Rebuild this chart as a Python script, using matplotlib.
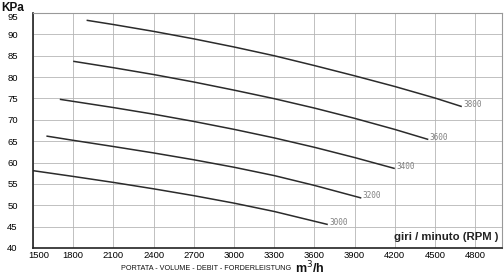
import matplotlib
matplotlib.use("Agg")
import matplotlib.pyplot as plt
import matplotlib.transforms as mtransforms

# airflow (m3/h) and pressure (KPa), one curve per speed
x_3000 = [1500, 1800, 2100, 2400, 2700, 3000, 3300, 3700]
y_3000 = [58.1, 56.75, 55.35, 53.85, 52.25, 50.5, 48.55, 45.5]

x_3200 = [1600, 1800, 2100, 2400, 2700, 3000, 3300, 3600, 3950]
y_3200 = [66.2, 65.2, 63.75, 62.25, 60.65, 58.9, 56.95, 54.65, 51.7]

x_3400 = [1700, 2100, 2400, 2700, 3000, 3300, 3600, 3900, 4200]
y_3400 = [74.8, 72.87, 71.32, 69.62, 67.77, 65.77, 63.57, 61.17, 58.6]

x_3600 = [1800, 2100, 2400, 2700, 3000, 3300, 3600, 3900, 4200, 4450]
y_3600 = [83.7, 82.2, 80.6, 78.85, 76.95, 74.95, 72.75, 70.35, 67.75, 65.4]

x_3800 = [1900, 2100, 2400, 2700, 3000, 3300, 3600, 3900, 4200, 4500, 4700]
y_3800 = [93.3, 92.3, 90.7, 88.95, 87.05, 85.0, 82.7, 80.3, 77.8, 75.1, 73.1]

speeds = ["3000", "3200", "3400", "3600", "3800"]
x_ticks = list(range(1500, 4801, 300))
y_ticks = list(range(40, 96, 5))

narrow = ["Liberation Sans Narrow", "Liberation Sans", "DejaVu Sans"]

fig = plt.figure(figsize=(5.04, 2.8), dpi=100)
ax = fig.add_axes([33/504, 1 - 248/280, 469/504, 235/280])

curves = [(x_3000, y_3000), (x_3200, y_3200), (x_3400, y_3400),
          (x_3600, y_3600), (x_3800, y_3800)]
for (xs, ys), name in zip(curves, speeds):
    ax.plot(xs, ys, color="#2b2b2b", lw=1.1, solid_capstyle="butt", solid_joinstyle="round")
    ax.annotate(name, (xs[-1], ys[-1]), xytext=(1, 1.5), textcoords="offset points",
                ha="left", va="center", fontsize=5.6, color="#808080",
                family="DejaVu Sans Mono")

ax.set_xlim(1500, 5000)
ax.set_ylim(40, 95)
ax.set_xticks(x_ticks)
ax.set_yticks(y_ticks)
ax.grid(True, color="#b5b5b5", lw=0.6)
ax.set_axisbelow(True)

ax.tick_params(axis="both", length=0, labelsize=6.8)
ax.tick_params(axis="x", pad=2)
ax.tick_params(axis="y", pad=11)
for lab in ax.get_xticklabels() + ax.get_yticklabels():
    lab.set_family(["Liberation Sans", "DejaVu Sans"])

# the first x label sits to the right of the axis, the top y label a bit low
lab0 = ax.get_xticklabels()[0]
lab0.set_transform(lab0.get_transform() + mtransforms.ScaledTranslation(6/100, 0, fig.dpi_scale_trans))
labtop = ax.get_yticklabels()[-1]
labtop.set_transform(labtop.get_transform() + mtransforms.ScaledTranslation(0, -4/100, fig.dpi_scale_trans))

for side in ["left", "bottom"]:
    ax.spines[side].set_color("#222222")
    ax.spines[side].set_linewidth(1.2)
for side in ["top", "right"]:
    ax.spines[side].set_color("#999999")
    ax.spines[side].set_linewidth(0.8)

ax.text(0.992, 0.045, "giri / minuto (RPM )", transform=ax.transAxes, ha="right", va="center",
        fontsize=8.2, fontweight="bold", family=narrow, color="#222222")

fig.text(1/504, 1 - 2/280, "KPa", ha="left", va="top", fontsize=8.5, fontweight="bold",
         family=narrow, color="#111111")
fig.text(291/504, 1 - 269/280, "PORTATA - VOLUME - DEBIT - FORDERLEISTUNG", ha="right", va="center",
         fontsize=5.2, family=narrow, color="#111111")
fig.text(295/504, 1 - 268/280, "m$^{3}$/h", ha="left", va="center", fontsize=9, fontweight="bold",
         family=narrow, color="#111111")

fig.savefig("out.png", dpi=100)
